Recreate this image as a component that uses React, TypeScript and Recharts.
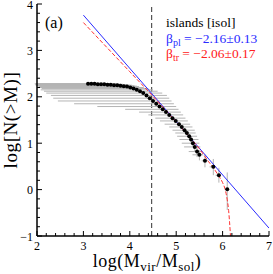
import React from "react";
import {
  ComposedChart,
  XAxis,
  YAxis,
  Scatter,
  Line,
  ErrorBar,
  ReferenceLine,
} from "recharts";

// cumulative mass function points
const logM = [
  3.1, 3.17, 3.24, 3.31, 3.38, 3.45, 3.52, 3.59, 3.66, 3.73, 3.8, 3.87, 3.94,
  4.01, 4.08, 4.15, 4.22, 4.29, 4.36, 4.43, 4.5, 4.57, 4.64, 4.71, 4.78, 4.85,
  4.92, 4.99, 5.06, 5.12, 5.18, 5.23, 5.28, 5.32, 5.36, 5.4, 5.45, 5.5, 5.62,
  5.8, 5.92, 6.1,
];
const logN = [
  2.28, 2.28, 2.28, 2.27, 2.27, 2.27, 2.26, 2.26, 2.25, 2.25, 2.24, 2.23, 2.22,
  2.2, 2.18, 2.15, 2.12, 2.08, 2.03, 1.97, 1.91, 1.85, 1.79, 1.73, 1.67, 1.61,
  1.54, 1.48, 1.41, 1.35, 1.28, 1.22, 1.15, 1.08, 1.0, 0.92, 0.82, 0.75, 0.62,
  0.49, 0.31, 0.01,
];
// left end of the horizontal error bar
const xLeft = [
  1.95, 1.98, 2.0, 1.96, 2.02, 1.98, 2.0, 2.04, 1.97, 2.02, 2.0, 2.06, 2.03,
  2.05, 2.1, 2.08, 2.15, 2.2, 2.3, 2.35, 2.45, 2.8, 3.3, 3.9, 4.2, 4.4, 4.55,
  4.65, 4.75, 4.85, 4.92, 4.98, 5.02, 5.07, 5.12, 5.17, 5.27, 5.35, 5.55,
  5.72, 5.85, 6.05,
];
// right end of the horizontal error bar
const xRight = [
  3.5, 3.6, 3.7, 3.75, 3.8, 3.85, 3.9, 3.95, 4.0, 4.05, 4.1, 4.15, 4.2, 4.3,
  4.4, 4.5, 4.6, 4.7, 4.8, 4.85, 4.9, 4.95, 5.0, 5.05, 5.1, 5.15, 5.2, 5.25,
  5.3, 5.35, 5.4, 5.42, 5.45, 5.48, 5.5, 5.52, 5.56, 5.58, 5.68, 5.86, 5.96,
  6.14,
];
// vertical error bar (down, up)
const yDown = [
  0, 0, 0, 0, 0, 0, 0, 0, 0, 0, 0, 0, 0, 0, 0, 0, 0, 0, 0, 0, 0, 0, 0, 0,
  0.02, 0.02, 0.03, 0.03, 0.04, 0.04, 0.05, 0.05, 0.06, 0.07, 0.08, 0.1,
  0.12, 0.12, 0.14, 0.18, 0.16, 0.45,
];
const yUp = [
  0, 0, 0, 0, 0, 0, 0, 0, 0, 0, 0, 0, 0, 0, 0, 0, 0, 0, 0, 0, 0, 0, 0, 0,
  0.02, 0.02, 0.03, 0.03, 0.04, 0.04, 0.05, 0.05, 0.06, 0.07, 0.08, 0.08,
  0.1, 0.1, 0.14, 0.17, 0.16, 0.36,
];

// power-law fit (blue) and truncated power-law fit (red dashed)
const plX = [3.0, 7.0];
const plY = [3.76, -0.83];
const trX = [
  3.0, 3.5, 4.0, 4.5, 5.0, 5.3, 5.5, 5.7, 5.8, 5.9, 6.0, 6.05, 6.1, 6.13, 6.15,
  6.17,
];
const trY = [
  3.6, 3.07, 2.54, 2.01, 1.46, 1.12, 0.88, 0.6, 0.47, 0.32, 0.15, 0.02, -0.22,
  -0.45, -0.7, -1.0,
];

const completeness = 4.47;

const xMajor = [2, 3, 4, 5, 6, 7];
const yMajor = [-1, 0, 1, 2, 3, 4];

const points = logM.map((x, i) => ({
  x,
  y: logN[i],
  ex: [x - xLeft[i], xRight[i] - x],
  ey: [yDown[i], yUp[i]],
}));
const plData = plX.map((x, i) => ({ x, y: plY[i] }));
const trData = trX.map((x, i) => ({ x, y: trY[i] }));

const minor = (major: number[]) => {
  const out: number[] = [];
  for (let i = 0; i < major.length - 1; i++) {
    for (let k = 0; k < 5; k++) out.push(+(major[i] + k * 0.2).toFixed(1));
  }
  out.push(major[major.length - 1]);
  return out;
};
const xTicks = minor(xMajor);
const yTicks = minor(yMajor);

const serif = { fontFamily: "'Liberation Serif', 'Times New Roman', serif" };
const fmt = (v: number) => (v < 0 ? `\u2212${Math.abs(v)}` : `${v}`);

const makeTick = (side: "bottom" | "top" | "left" | "right") => (props: any) => {
  const { x, y, payload } = props;
  const v = payload.value;
  const major = Math.abs(v - Math.round(v)) < 1e-6;
  const len = major ? 5 : 3;
  let line;
  if (side === "bottom") line = <line x1={x} y1={y} x2={x} y2={y - len} />;
  else if (side === "top") line = <line x1={x} y1={y} x2={x} y2={y + len} />;
  else if (side === "left") line = <line x1={x} y1={y} x2={x + len} y2={y} />;
  else line = <line x1={x} y1={y} x2={x - len} y2={y} />;
  return (
    <g stroke="#000" strokeWidth={1}>
      {line}
      {major && side === "bottom" && (
        <text x={x} y={y + 14} textAnchor="middle" fontSize={12} style={serif} fill="#000" stroke="none">
          {fmt(v)}
        </text>
      )}
      {major && side === "left" && (
        <text x={x - 4} y={y + 4.5} textAnchor="end" fontSize={12} style={serif} fill="#000" stroke="none">
          {fmt(v)}
        </text>
      )}
    </g>
  );
};

const Dot = (props: any) => <circle cx={props.cx} cy={props.cy} r={2} fill="#000" />;

export default function App() {
  return (
    <div style={{ position: "absolute", left: 0, top: 0, width: 273, height: 274 }}>
      <ComposedChart width={273} height={274} margin={{ top: 4, right: 4, bottom: 0, left: 0 }}>
        <XAxis
          dataKey="x"
          type="number"
          domain={[2, 7]}
          ticks={xTicks}
          interval={0}
          allowDataOverflow
          height={38}
          tickSize={0}
          tickMargin={0}
          tickLine={false}
          tick={makeTick("bottom")}
          axisLine={{ stroke: "#000", strokeWidth: 1.5 }}
        />
        <XAxis
          xAxisId="top"
          orientation="top"
          type="number"
          domain={[2, 7]}
          ticks={xTicks}
          interval={0}
          height={0}
          tickSize={0}
          tickMargin={0}
          tickLine={false}
          tick={makeTick("top")}
          axisLine={{ stroke: "#000", strokeWidth: 1.5 }}
        />
        <YAxis
          dataKey="y"
          type="number"
          domain={[-1, 4]}
          ticks={yTicks}
          interval={0}
          allowDataOverflow
          width={37}
          tickSize={0}
          tickMargin={0}
          tickLine={false}
          tick={makeTick("left")}
          axisLine={{ stroke: "#000", strokeWidth: 1.5 }}
        />
        <YAxis
          yAxisId="right"
          orientation="right"
          type="number"
          domain={[-1, 4]}
          ticks={yTicks}
          interval={0}
          width={0}
          tickSize={0}
          tickMargin={0}
          tickLine={false}
          tick={makeTick("right")}
          axisLine={{ stroke: "#000", strokeWidth: 1.5 }}
        />
        <ReferenceLine x={completeness} stroke="#555" strokeWidth={1.2} strokeDasharray="5 3" />
        <Scatter data={points} shape={<Dot />} isAnimationActive={false}>
          <ErrorBar dataKey="ex" direction="x" width={0} stroke="#b4b4b4" strokeWidth={1} />
          <ErrorBar dataKey="ey" direction="y" width={0} stroke="#b4b4b4" strokeWidth={1} />
        </Scatter>
        <Line data={plData} dataKey="y" stroke="#2a2aff" strokeWidth={1} dot={false} isAnimationActive={false} />
        <Line
          data={trData}
          dataKey="y"
          type="monotone"
          stroke="#ff3030"
          strokeWidth={1}
          strokeDasharray="4 2"
          dot={false}
          isAnimationActive={false}
        />
      </ComposedChart>
      <svg
        width={273}
        height={274}
        style={{ position: "absolute", left: 0, top: 0, pointerEvents: "none", ...serif }}
      >
        <text x={45} y={28} fontSize={16} fill="#000">(a)</text>
        <text x={166} y={27} fontSize={13.5} fill="#000">islands [isol]</text>
        <text x={166} y={43} fontSize={13.5} fill="#2a2aff">
          β<tspan fontSize={10} dy={3}>pl</tspan>
          <tspan dy={-3}> = −2.16±0.13</tspan>
        </text>
        <text x={166} y={58} fontSize={13.5} fill="#ff2020">
          β<tspan fontSize={10} dy={3}>tr</tspan>
          <tspan dy={-3}> = −2.06±0.17</tspan>
        </text>
        <text x={147} y={267} fontSize={18} letterSpacing={0.5} textAnchor="middle" fill="#000">
          log(M<tspan fontSize={13} dy={4}>vir</tspan>
          <tspan dy={-4}>/M</tspan>
          <tspan fontSize={13} dy={4}>sol</tspan>
          <tspan dy={-4}>)</tspan>
        </text>
        <text
          x={0}
          y={0}
          fontSize={19}
          letterSpacing={0.6}
          textAnchor="middle"
          fill="#000"
          transform="translate(16.5,120) rotate(-90)"
        >
          log[N(&gt;M)]
        </text>
      </svg>
    </div>
  );
}
